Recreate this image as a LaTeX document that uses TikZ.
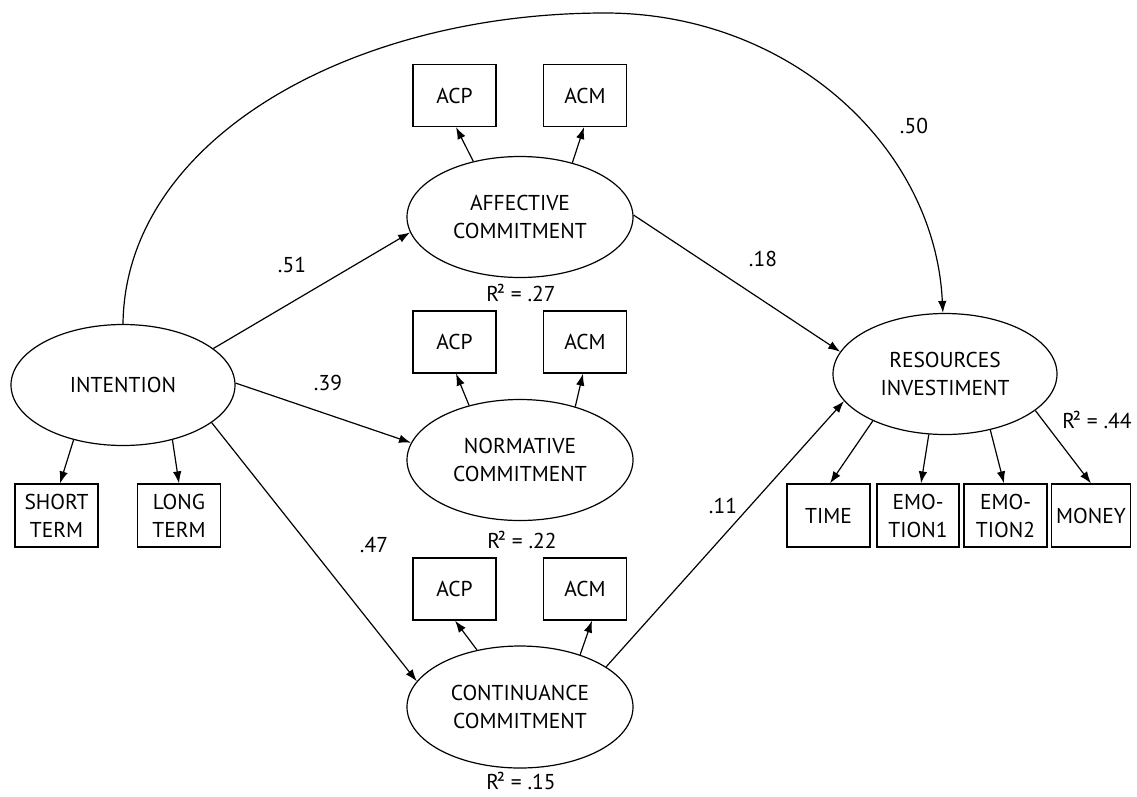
\documentclass[tikz,border=0pt]{standalone}
\usepackage{fontspec}
\setmainfont{PT Sans}
\usetikzlibrary{arrows.meta,shapes.geometric}
\newcommand{\rsq}{R\kern-2.5pt²}
\begin{document}
\begin{tikzpicture}[x=1pt,y=-1pt,
  every node/.style={font=\fontsize{21.5}{28}\selectfont},
  latent/.style={draw,ellipse,line width=1.2pt,inner sep=0pt,align=center,minimum width=224pt,minimum height=121pt},
  ind/.style={draw,rectangle,line width=1.2pt,inner sep=0pt,align=center,minimum width=83pt,minimum height=62pt},
  arr/.style={line width=1.2pt,-{Latex[length=12pt,width=8.5pt]}},
  coef/.style={inner sep=0pt}
]
\path[use as bounding box,fill=white] (0,0) rectangle (1137,796);
% latent variables
\node[latent] (INT) at (123,385) {INTENTION};
\node[latent,minimum width=226pt] (AFF) at (520,217) {AFFECTIVE\\COMMITMENT};
\node[latent,minimum width=226pt] (NOR) at (520,460) {NORMATIVE\\COMMITMENT};
\node[latent,minimum width=226pt,minimum height=122pt] (CON) at (520,707) {CONTINUANCE\\COMMITMENT};
\node[latent] (RES) at (945,374) {RESOURCES\\INVESTIMENT};
% indicators
\node[ind,minimum height=63pt] (ST) at (56.5,515.5) {SHORT\\TERM};
\node[ind,minimum height=63pt] (LT) at (179,515.5) {LONG\\TERM};
\node[ind] (AACP) at (454.5,95.5) {ACP};
\node[ind] (AACM) at (585,95.5) {ACM};
\node[ind] (NACP) at (454.5,342) {ACP};
\node[ind] (NACM) at (585,342) {ACM};
\node[ind] (CACP) at (454.5,589) {ACP};
\node[ind] (CACM) at (585,589) {ACM};
\node[ind,minimum height=63pt] (TIME) at (828.5,515.5) {TIME};
\node[ind,minimum width=82pt,minimum height=63pt] (EMO1) at (918,515.5) {EMO-\\TION1};
\node[ind,minimum height=63pt] (EMO2) at (1005.5,515.5) {EMO-\\TION2};
\node[ind,minimum width=79pt,minimum height=63pt] (MON) at (1091,515.5) {MONEY};
% measurement arrows
\draw[arr] (INT.228) -- ([xshift=3.5pt]ST.north);
\draw[arr] (INT.312) -- (LT.north);
\draw[arr] (AFF.130) -- ([xshift=1.5pt]AACP.south);
\draw[arr] (AFF.46.5) -- ([xshift=-1pt]AACM.south);
\draw[arr] (NOR.133) -- ([xshift=1.5pt]NACP.south);
\draw[arr] (NOR.44.5) -- ([xshift=-2pt]NACM.south);
\draw[arr] (CON.127.5) -- ([xshift=0.5pt]CACP.south);
\draw[arr] (CON.41.4) -- ([xshift=7pt]CACM.south);
\draw[arr] (RES.213) -- ([xshift=1.5pt]TIME.north);
\draw[arr] (RES.255) -- ([xshift=3pt]EMO1.north);
\draw[arr] (RES.309) -- ([xshift=-1.5pt]EMO2.north);
\draw[arr] (RES.338) -- (MON.north);
% structural paths
\draw[arr] (INT.22) -- (AFF.188);
\draw[arr] (INT.1) -- (NOR.171.6);
\draw[arr] (INT.337) -- (CON.166.8);
\draw[arr] (AFF.1) -- (RES.168.4);
\draw[arr] (CON.25.2) -- (RES.195.4);
\draw[arr] (INT.north) .. controls (125,140) and (350,13) .. (605,13)
  .. controls (790,13) and (935,147) .. (RES.92);
% coefficients
\node[coef] (c51) at (292,265) {.51};
\node[coef] (c39) at (328,383) {.39};
\node[coef] (c47) at (374,545) {.47};
\node[coef] (c18) at (763,259) {.18};
\node[coef] (c11) at (723,506) {.11};
\node[coef] (c50) at (914,126) {.50};
\node[coef] (r27) at (521,293) {\rsq{} = .27};
\node[coef] (r22) at (522,540) {\rsq{} = .22};
\node[coef] (r15) at (521,781) {\rsq{} = .15};
\node[coef] (r44) at (1097,420) {\rsq{} = .44};
\end{tikzpicture}
\end{document}
